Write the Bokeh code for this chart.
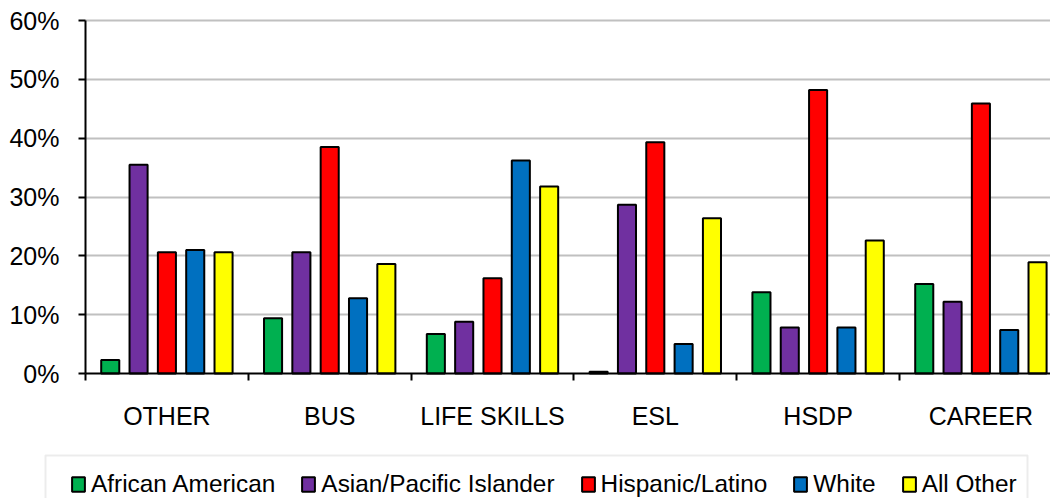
import numpy as np
from bokeh.plotting import figure
from bokeh.models import (Range1d, FixedTicker, NumeralTickFormatter, Legend, LegendItem,
                          BoxAnnotation)
from bokeh.embed import file_html
from bokeh.resources import INLINE

categories = ["OTHER", "BUS", "LIFE SKILLS", "ESL", "HSDP", "CAREER"]
series_names = ["African American", "Asian/Pacific Islander", "Hispanic/Latino", "White", "All Other"]
colors = ["#00B050", "#7030A0", "#FF0000", "#0070C0", "#FFFF00"]

african_american = [0.023, 0.094, 0.067, 0.003, 0.138, 0.152]
asian_pacific = [0.355, 0.206, 0.088, 0.287, 0.078, 0.122]
hispanic_latino = [0.206, 0.385, 0.162, 0.393, 0.482, 0.459]
white = [0.210, 0.128, 0.362, 0.050, 0.078, 0.074]
all_other = [0.206, 0.186, 0.318, 0.264, 0.226, 0.189]
series_values = [african_american, asian_pacific, hispanic_latino, white, all_other]

y_ticks = [0.0, 0.1, 0.2, 0.3, 0.4, 0.5, 0.6]

FONT = "Liberation Sans"

# layout geometry (pixels)
W, H = 1050, 498
AXIS_X, ZERO_Y, TOP_Y = 85, 373, 20
CAT_PX = 162.8
y_per_px = 0.6 / (ZERO_Y - TOP_Y)
x_start = -AXIS_X / CAT_PX
x_end = (W - AXIS_X) / CAT_PX
y_end = 0.6 + TOP_Y * y_per_px
y_start = -(H - ZERO_Y) * y_per_px

p = figure(width=W, height=H, output_backend="svg", toolbar_location=None,
           x_range=Range1d(x_start, x_end), y_range=Range1d(y_start, y_end),
           min_border_left=0, min_border_right=0, min_border_top=0, min_border_bottom=0)
p.outline_line_color = None

centers = np.arange(len(categories)) + 0.5
pitch = 0.174
bar_w = 0.111
renderers = []
for i, (vals, col) in enumerate(zip(series_values, colors)):
    xs = centers + (i - 2) * pitch
    r = p.vbar(x=xs, top=vals, width=bar_w, bottom=0, fill_color=col,
               line_color="black", line_width=2)
    renderers.append(r)

# y axis
p.yaxis.fixed_location = 0
p.yaxis.bounds = (0, 0.6)
p.yaxis.ticker = FixedTicker(ticks=y_ticks)
p.yaxis.formatter = NumeralTickFormatter(format="0%")
p.yaxis.axis_line_color = "black"
p.yaxis.axis_line_width = 2
p.yaxis.major_tick_line_color = "black"
p.yaxis.major_tick_line_width = 2
p.yaxis.major_tick_out = 7
p.yaxis.major_tick_in = 0
p.yaxis.minor_tick_line_color = None
p.yaxis.major_label_standoff = 19
p.yaxis.major_label_text_font = FONT
p.yaxis.major_label_text_font_size = "25px"
p.yaxis.major_label_text_color = "black"

# x axis
p.xaxis.fixed_location = 0
p.xaxis.bounds = (0, x_end)
p.xaxis.ticker = FixedTicker(ticks=list(centers), minor_ticks=list(range(len(categories))))
p.xaxis.major_label_overrides = {float(c): cat for c, cat in zip(centers, categories)}
p.xaxis.axis_line_color = "black"
p.xaxis.axis_line_width = 2
p.xaxis.major_tick_line_color = None
p.xaxis.major_tick_out = 0
p.xaxis.major_tick_in = 0
p.xaxis.minor_tick_line_color = "black"
p.xaxis.minor_tick_line_width = 2
p.xaxis.minor_tick_out = 7
p.xaxis.minor_tick_in = 0
p.xaxis.major_label_standoff = 21
p.xaxis.major_label_text_font = FONT
p.xaxis.major_label_text_font_size = "25px"
p.xaxis.major_label_text_color = "black"

# grid
p.xgrid.grid_line_color = None
ygrid = p.ygrid[0]
if "cross_bounds" in ygrid.properties():
    ygrid.ticker = FixedTicker(ticks=y_ticks[1:])
    ygrid.grid_line_color = "#C0C0C0"
    ygrid.grid_line_width = 2
    ygrid.cross_bounds = (0, x_end)
else:
    ygrid.grid_line_color = None
    p.segment(x0=0, x1=x_end, y0=y_ticks[1:], y1=y_ticks[1:], line_color="#C0C0C0",
              line_width=2, level="underlay")

# legend frame
p.add_layout(BoxAnnotation(left=(45 - AXIS_X) / CAT_PX, right=(1027 - AXIS_X) / CAT_PX,
                           top=-(455 - ZERO_Y) * y_per_px, bottom=y_start - 0.05,
                           fill_alpha=0, line_color="#C0C0C0", line_width=2))

legend = Legend(items=[LegendItem(label=n, renderers=[r]) for n, r in zip(series_names, renderers)],
                orientation="horizontal", location=(70, 0),
                glyph_width=16, glyph_height=18, label_standoff=5, spacing=25,
                padding=0, margin=0, border_line_color=None, background_fill_alpha=0,
                label_text_font=FONT, label_text_font_size="24.4px", label_text_color="black")
p.add_layout(legend)

open("out.html", "w").write(file_html(p, INLINE))
